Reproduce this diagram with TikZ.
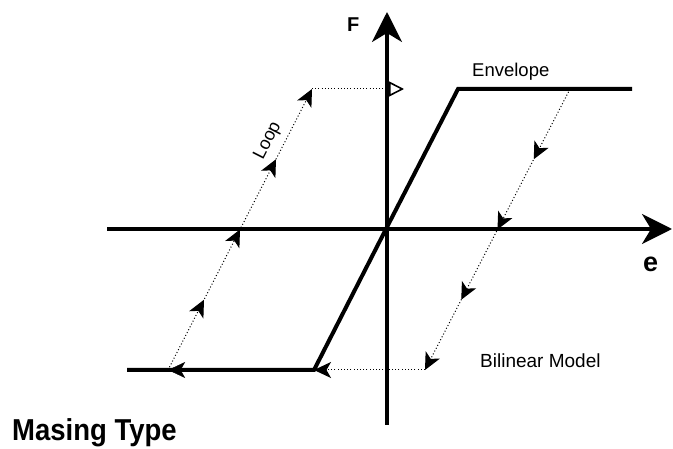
\documentclass[tikz,border=0pt]{standalone}
\usepackage{fontspec}
\setmainfont{Liberation Sans}
\usetikzlibrary{arrows.meta,decorations.markings}
\tikzset{
  tipmark/.tip={Stealth[length=17pt,width=16pt,inset=4.5pt]},
  axisline/.style={line width=3.2pt, -{Stealth[length=30pt,width=30pt,inset=9pt]}},
  envline/.style={line width=4pt, line join=miter},
  dotline/.style={line width=1pt, dash pattern=on 1pt off 2.2pt},
  midarrows/.style={postaction={decorate},
    decoration={markings,
      mark=at position 0.25 with {\arrow{tipmark}},
      mark=at position 0.5 with {\arrow{tipmark}},
      mark=at position 0.75 with {\arrow{tipmark}}}},
  lbl/.style={inner sep=0pt, anchor=base west}
}
\begin{document}
\begin{tikzpicture}[x=1pt,y=-1pt]
\useasboundingbox (0,0) rectangle (673,449);
% coordinates
\coordinate (xs) at (107,229);
\coordinate (xe) at (672,229);
\coordinate (ys) at (387,425);
\coordinate (ye) at (387,12);
\coordinate (bl) at (127,370);
\coordinate (bc) at (314,370);
\coordinate (o) at (386,229);
\coordinate (tc) at (458,89);
\coordinate (tr) at (632,89);
\coordinate (ru) at (570,89);
\coordinate (rd) at (425,370);
\coordinate (ld) at (168,370);
\coordinate (lu) at (312,89);
\coordinate (ta) at (404,89);
% axes
\draw[axisline] (xs) -- (xe);
\draw[axisline] (ys) -- (ye);
% envelope
\draw[envline] (bl) -- (bc) -- (o) -- (tc) -- (tr);
\path[postaction={decorate}, decoration={markings,
   mark=at position 0.78 with {\arrow{tipmark}}}] (bc) -- (bl);
% loop
\draw[dotline, midarrows, -{tipmark}] (ru) -- (rd);
\draw[dotline, -{tipmark}] (rd) -- (bc);
\draw[dotline, midarrows, -{tipmark}] (ld) -- (lu);
\draw[dotline, -{Triangle[open,length=15pt,width=15pt,line width=1.6pt]}] (lu) -- (ta);
% labels
\node[lbl, font=\bfseries\fontsize{20}{20}\selectfont] (F) at (347,32) {F};
\node[lbl, font=\bfseries\fontsize{27}{27}\selectfont] (e) at (643,272) {e};
\node[lbl, font=\fontsize{18.5}{18.5}\selectfont] (env) at (472,77) {Envelope};
\node[lbl, font=\fontsize{19}{19}\selectfont] (bil) at (480,368) {Bilinear Model};
\node[inner sep=0pt, rotate=63, font=\fontsize{18}{18}\selectfont] (loop) at (268,141) {Loop};
\node[lbl, font=\bfseries\fontsize{27.5}{27.5}\selectfont] (title) at (12,441) {\scalebox{1}[1.1]{Masing Type}};
\end{tikzpicture}
\end{document}
